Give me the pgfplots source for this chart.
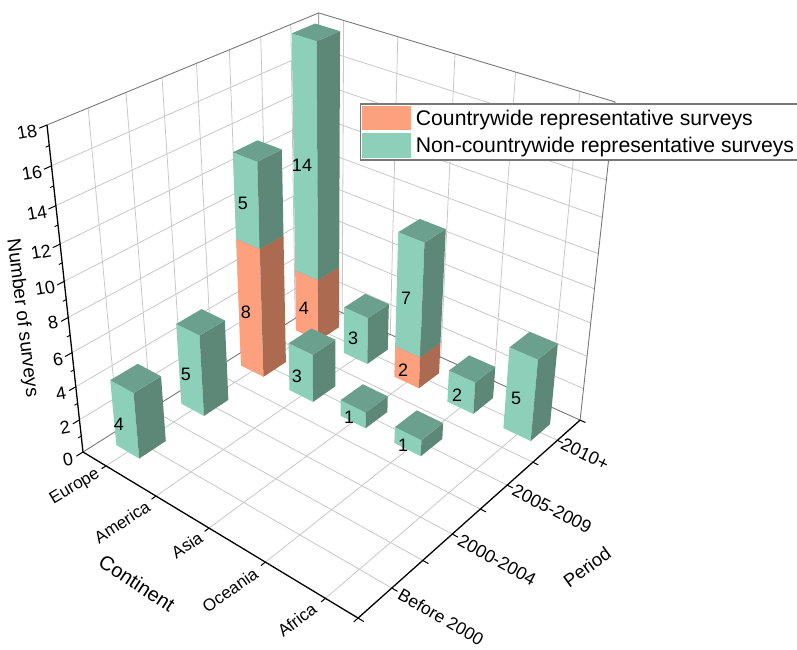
\documentclass[border=0pt]{standalone}
\usepackage{fontspec}
\setmainfont{Liberation Sans}
\usepackage{pgfplots}
\pgfplotsset{compat=1.18}

\definecolor{tealF}{RGB}{140,208,186}
\definecolor{tealS}{RGB}{93,135,119}
\definecolor{tealT}{RGB}{108,160,142}
\definecolor{oranF}{RGB}{253,160,125}
\definecolor{oranS}{RGB}{172,106,81}
\definecolor{gridc}{RGB}{200,200,200}
\definecolor{edgec}{RGB}{120,120,120}

% one stacked segment: continent, period, from, to, front, side, top
\newcommand{\seg}[7]{%
  \addplot3[fill=#5,draw=none] coordinates {({#1-0.235},{#2-0.2},#3) ({#1+0.235},{#2-0.2},#3) ({#1+0.235},{#2-0.2},#4) ({#1-0.235},{#2-0.2},#4)} --cycle;
  \addplot3[fill=#6,draw=none] coordinates {({#1+0.235},{#2-0.2},#3) ({#1+0.235},{#2+0.2},#3) ({#1+0.235},{#2+0.2},#4) ({#1+0.235},{#2-0.2},#4)} --cycle;
  \addplot3[fill=#7,draw=none] coordinates {({#1-0.235},{#2-0.2},#4) ({#1+0.235},{#2-0.2},#4) ({#1+0.235},{#2+0.2},#4) ({#1-0.235},{#2+0.2},#4)} --cycle;
}
\newcommand{\teal}[4]{\seg{#1}{#2}{#3}{#4}{tealF}{tealS}{tealT}}
\newcommand{\oran}[4]{\seg{#1}{#2}{#3}{#4}{oranF}{oranS}{oranS}}
% text at picture position: x, y from top, rotation, size, text
\newcommand{\lab}[5]{\node[rotate=#3,font=\fontsize{#4}{#4}\selectfont,inner sep=0pt] at (axis cs:#1,{649-#2},0) {#5};}

\begin{document}
\begin{tikzpicture}
\path[use as bounding box] (0,0) rectangle (797pt,649pt);
\begin{axis}[
  anchor=origin, at={(0pt,0pt)},
  x={(1pt,0pt)}, y={(0pt,1pt)}, z={(0pt,0pt)},
  xmin=0, xmax=797, ymin=0, ymax=649, zmin=0, zmax=1,
  hide axis, clip=false,
  % perspective of the original: continent, period, count to picture position
  filter point/.code={%
    \pgfkeysgetvalue{/data point/x}\dx
    \pgfkeysgetvalue{/data point/y}\dy
    \pgfkeysgetvalue{/data point/z}\dz
    \pgfmathsetmacro\da{(\dx-0.52)/5}%
    \pgfmathsetmacro\db{(\dy-0.484)/4}%
    \pgfmathsetmacro\dw{\dz/18}%
    \pgfmathsetmacro\dd{1-0.1407*\da+0.1776*\db-0.127*\dw}%
    \pgfmathparse{(83+224.7*\da+293.8*\db-41.97*\dw)/\dd}%
    \pgfkeyslet{/data point/x}\pgfmathresult
    \pgfmathparse{649-(452+79.1*\da-95.5*\db-342.9*\dw)/\dd}%
    \pgfkeyslet{/data point/y}\pgfmathresult
    \pgfkeyssetvalue{/data point/z}{0}%
  },
  legend style={at={(axis cs:359.5,546,0)},anchor=north west,draw=edgec,line width=1.6pt,
    fill=white,inner xsep=2pt,inner ysep=2pt,row sep=3pt,
    font=\fontsize{21.2}{23}\selectfont},
  legend cell align=left,
]
\addlegendimage{legend image code/.code={\fill[oranF] (0pt,-11.5pt) rectangle (47pt,11.5pt);\path (50pt,0pt);}}
\addlegendentry{Countrywide representative surveys}
\addlegendimage{legend image code/.code={\fill[tealF] (0pt,-11.5pt) rectangle (47pt,11.5pt);\path (50pt,0pt);}}
\addlegendentry{Non-countrywide representative surveys}

% left wall and right wall grid
\pgfplotsinvokeforeach{2,4,...,16}{
  \addplot3[gridc,line width=0.8pt] coordinates {(0.52,0.484,#1) (0.52,4.484,#1) (5.52,4.484,#1)};
}
\pgfplotsinvokeforeach{1,1.5,2,2.5,3,3.5,4}{
  \addplot3[gridc,line width=0.8pt] coordinates {(0.52,#1,18) (0.52,#1,0) (5.52,#1,0)};
}
\pgfplotsinvokeforeach{1,2,3,4,5}{
  \addplot3[gridc,line width=0.8pt] coordinates {(#1,0.484,0) (#1,4.484,0) (#1,4.484,18)};
}
% wall edges
\addplot3[edgec,line width=0.9pt] coordinates {(0.52,0.484,18) (0.52,4.484,18) (5.52,4.484,18) (5.52,4.484,0)};
\addplot3[edgec,line width=0.9pt] coordinates {(0.52,0.484,0) (0.52,4.484,0) (5.52,4.484,0)};
\addplot3[edgec,line width=0.9pt] coordinates {(0.52,4.484,0) (0.52,4.484,18)};

% axes
\addplot3[black,line width=1.3pt] coordinates {(0.52,0.484,18) (0.52,0.484,0) (5.52,0.484,0) (5.52,4.484,0)};
\pgfplotsinvokeforeach{0,2,...,18}{
  \addplot3[black,line width=1pt] coordinates {(0.52,0.484,#1) (0.52,0.39,#1)};
}
\pgfplotsinvokeforeach{1,3,...,17}{
  \addplot3[black,line width=0.9pt] coordinates {(0.52,0.484,#1) (0.52,0.44,#1)};
}
\pgfplotsinvokeforeach{1,2,3,4,5,5.52}{
  \addplot3[black,line width=1pt] coordinates {(#1,0.484,0) (#1,0.42,0)};
}
\pgfplotsinvokeforeach{0.484,1,1.5,2,2.5,3,3.5,4,4.484}{
  \addplot3[black,line width=1pt] coordinates {(5.52,#1,0) (5.61,#1,0)};
}

% bars, far ones first: continent 1-5, period 1-4
\oran{1}{4}{0}{4}   \teal{1}{4}{4}{18}
\teal{2}{4}{0}{3}
\oran{1}{3}{0}{8}   \teal{1}{3}{8}{13}
\oran{3}{4}{0}{2}   \teal{3}{4}{2}{9}
\teal{2}{3}{0}{3}
\teal{1}{2}{0}{5}
\teal{4}{4}{0}{2}
\teal{3}{3}{0}{1}
\teal{1}{1}{0}{4}
\teal{5}{4}{0}{5}
\teal{4}{3}{0}{1}

% value labels
\lab{119}{424}{0}{18}{4}
\lab{186}{374}{0}{18}{5}
\lab{246}{312}{0}{18}{8}
\lab{243}{203}{0}{18}{5}
\lab{302}{165}{0}{18}{14}
\lab{304}{308}{0}{18}{4}
\lab{297}{376}{0}{18}{3}
\lab{353}{338}{0}{18}{3}
\lab{349}{417}{0}{18}{1}
\lab{406}{298}{0}{18}{7}
\lab{403}{370}{0}{18}{2}
\lab{403}{445}{0}{18}{1}
\lab{457}{395}{0}{18}{2}
\lab{516}{398}{0}{18}{5}

% z tick labels
\lab{27}{132}{10}{18}{18}
\lab{32}{173}{10}{18}{16}
\lab{37}{213}{10}{18}{14}
\lab{41}{252}{10}{18}{12}
\lab{45}{288}{10}{18}{10}
\lab{53}{323}{10}{18}{8}
\lab{58}{360}{10}{18}{6}
\lab{61}{394}{10}{18}{4}
\lab{65}{427}{10}{18}{2}
\lab{68}{460}{10}{18}{0}
% continent tick labels
\lab{75}{487}{31}{17}{Europe}
\lab{122}{522}{33}{17}{America}
\lab{187}{545}{33}{17}{Asia}
\lab{230}{590}{35}{17}{Oceania}
\lab{297}{620}{37}{17}{Africa}
% period tick labels
\lab{585}{454}{-26}{18}{2010+}
\lab{552}{509}{-27}{18}{2005-2009}
\lab{497}{560}{-29}{18}{2000-2004}
\lab{441}{617}{-30}{17.5}{Before 2000}
% axis titles
\lab{22}{318}{-83}{19}{Number of surveys}
\lab{137}{583}{-33}{20}{Continent}
\lab{587}{567}{36}{18.5}{Period}
\end{axis}
\end{tikzpicture}
\end{document}
